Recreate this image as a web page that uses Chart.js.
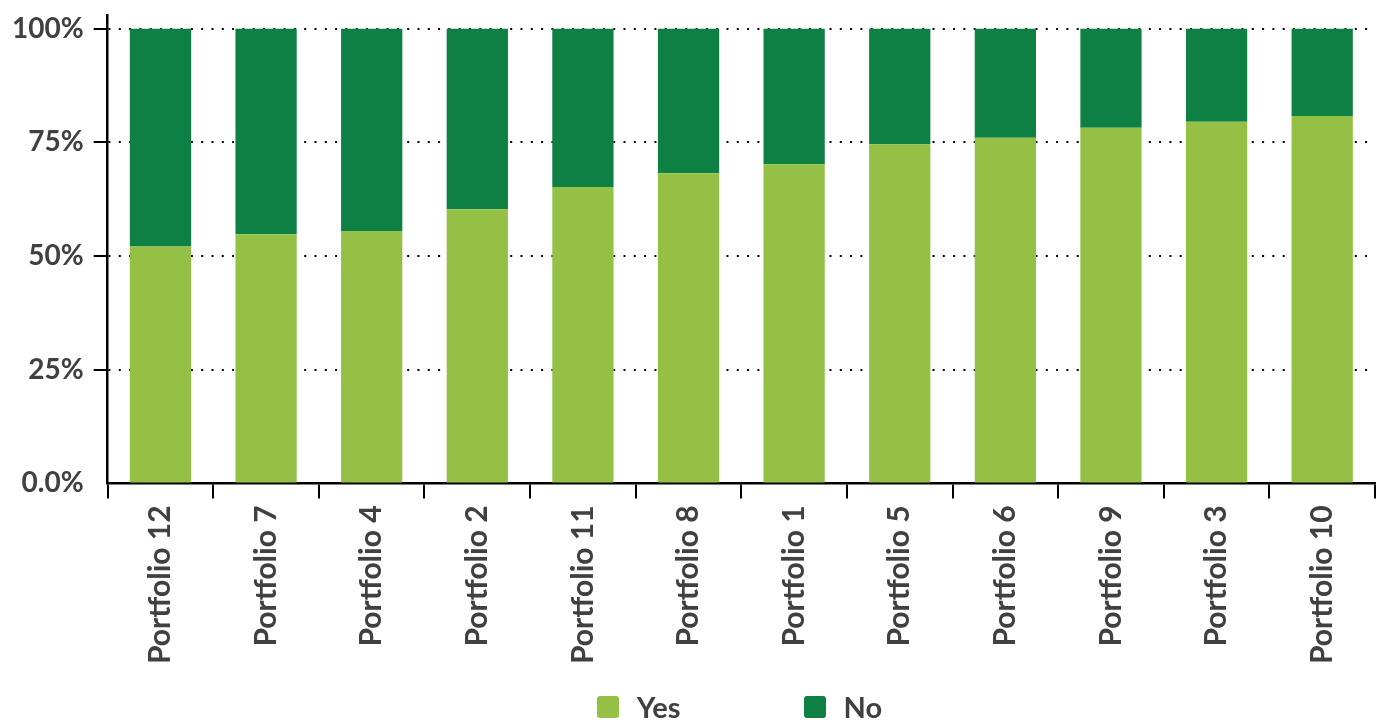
<!DOCTYPE html>
<html>
<head>
<meta charset="utf-8">
<script src="https://cdn.jsdelivr.net/npm/chart.js@4"></script>
<style>
  body { margin: 0; background: #fff; }
  #wrap { position: relative; width: 1380px; height: 720px; }
  #legend {
    position: absolute; left: 106px; width: 1267px; top: 690px;
    display: flex; justify-content: center; gap: 123px;
    font-family: Lato, sans-serif; font-weight: bold; font-size: 29px; color: #404040;
    line-height: 34px;
  }
  #legend .item { display: flex; align-items: center; }
  #legend .box { width: 22px; height: 22px; border-radius: 3px; margin-right: 18px; }
</style>
</head>
<body>
<div id="wrap">
  <canvas id="chart" width="1380" height="720"></canvas>
  <div id="legend"></div>
</div>
<script>
const portfolios = ['Portfolio 12', 'Portfolio 7', 'Portfolio 4', 'Portfolio 2', 'Portfolio 11', 'Portfolio 8',
                    'Portfolio 1', 'Portfolio 5', 'Portfolio 6', 'Portfolio 9', 'Portfolio 3', 'Portfolio 10'];
const yesShare = [52.1, 54.8, 55.5, 60.3, 65.2, 68.2, 70.2, 74.6, 76.0, 78.2, 79.5, 80.8];
const noShare = [47.9, 45.2, 44.5, 39.7, 34.8, 31.8, 29.8, 25.4, 24.0, 21.8, 20.5, 19.2];
const yTicks = [0, 25, 50, 75, 100];
const yTickLabels = ['0.0%', '25%', '50%', '75%', '100%'];

const lightGreen = '#94c145';
const darkGreen = '#0f8044';
const textColor = '#404040';

const ctx = document.getElementById('chart');
const chart = new Chart(ctx, {
  type: 'bar',
  data: {
    labels: portfolios,
    datasets: [
      { label: 'Yes', data: yesShare, backgroundColor: lightGreen },
      { label: 'No', data: noShare, backgroundColor: darkGreen }
    ]
  },
  options: {
    responsive: false,
    animation: false,
    layout: { padding: { top: 15, left: 2, right: 5, bottom: 49 } },
    datasets: { bar: { barPercentage: 0.58, categoryPercentage: 1 } },
    plugins: { legend: { display: false }, tooltip: { enabled: false } },
    scales: {
      x: {
        stacked: true,
        grid: { drawOnChartArea: false, color: '#000', lineWidth: 2, tickLength: 15, offset: true },
        border: { color: '#000', width: 2.5 },
        ticks: {
          color: textColor,
          font: { family: 'Lato', weight: 'bold', size: 30 },
          maxRotation: 90, minRotation: 90, padding: 7
        }
      },
      y: {
        stacked: true,
        min: 0,
        max: 103,
        afterBuildTicks: axis => {
          axis.ticks = yTicks.map(v => ({ value: v }));
        },
        afterFit: axis => {
          // the axis line runs above the 100% label, so no extra room for it
          axis.paddingTop = 0;
          axis.paddingBottom = 0;
        },
        grid: {
          color: c => (c.tick && c.tick.value === 0) ? 'rgba(0,0,0,0)' : '#000',
          lineWidth: 2,
          tickLength: 14
        },
        border: { color: '#000', width: 2.5, dash: [2, 8.3] },
        ticks: {
          color: textColor,
          font: { family: 'Lato', weight: 'bold', size: 28 },
          padding: 10,
          callback: v => yTickLabels[yTicks.indexOf(v)]
        }
      }
    }
  }
});

const legend = document.getElementById('legend');
chart.data.datasets.forEach(ds => {
  const item = document.createElement('div');
  item.className = 'item';
  const box = document.createElement('span');
  box.className = 'box';
  box.style.background = ds.backgroundColor;
  const label = document.createElement('span');
  label.textContent = ds.label;
  item.appendChild(box);
  item.appendChild(label);
  legend.appendChild(item);
});
</script>
</body>
</html>
